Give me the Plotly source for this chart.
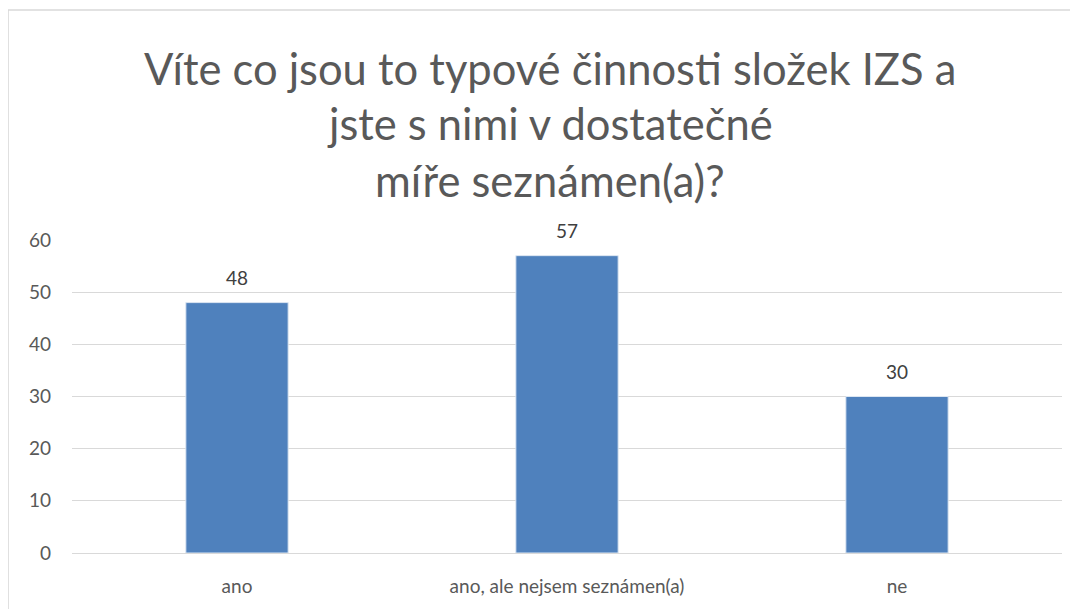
import plotly.graph_objects as go

categories = ["ano", "ano, ale nejsem seznámen(a)", "ne"]
values = [48, 57, 30]
title_lines = ["Víte co jsou to typové činnosti složek IZS a",
               "jste s nimi v dostatečné",
               "míře seznámen(a)?"]

FONT = "Lato, Liberation Sans, sans-serif"
GREY = "#595959"

fig = go.Figure(go.Bar(
    x=categories, y=values,
    marker=dict(color="#4F81BD", line=dict(color="#DCE6F2", width=1)),
    width=0.31,
    cliponaxis=False,
))

# value labels above bars
for c, v in zip(categories, values):
    fig.add_annotation(x=c, y=v, text=str(v), showarrow=False, yanchor="middle",
                       yshift=25, font=dict(size=19, color="#404040", family=FONT))

# title lines placed individually (chart title spacing)
for txt, ypos in zip(title_lines, [1.5495, 1.3738, 1.1917]):
    fig.add_annotation(text=txt, x=0.483, y=ypos, xref="paper", yref="paper",
                       xanchor="center", yanchor="middle", showarrow=False,
                       font=dict(size=43.5, color=GREY, family=FONT))

# chart frame
fig.add_shape(type="rect", xref="paper", yref="paper",
              x0=-0.0646, x1=1.2, y0=-0.5, y1=1.7348,
              line=dict(color="#D9D9D9", width=1.5), layer="below")

fig.update_layout(
    width=1070, height=601,
    margin=dict(l=64, r=16, t=232, b=56),
    paper_bgcolor="white", plot_bgcolor="white",
    showlegend=False,
    font=dict(family=FONT, size=19, color=GREY),
    xaxis=dict(showline=False, ticks="", ticklabelstandoff=20,
               tickfont=dict(size=19, color=GREY)),
    yaxis=dict(range=[0, 60], dtick=10, gridcolor="#D9D9D9", gridwidth=1.3,
               zeroline=True, zerolinecolor="#D9D9D9", zerolinewidth=1.3,
               ticks="", ticklabelstandoff=20, tickfont=dict(size=19, color=GREY)),
)

fig.write_html("out.html")
